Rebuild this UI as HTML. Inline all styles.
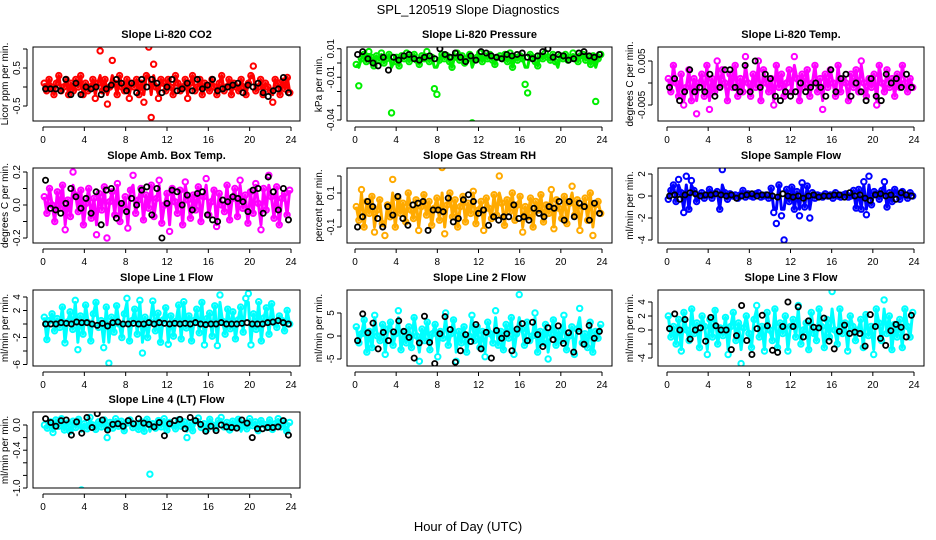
<!DOCTYPE html>
<html><head><meta charset="utf-8"><style>
body{margin:0;background:#fff;}
svg{display:block;font-family:"Liberation Sans",sans-serif;}
</style></head><body>
<svg id="chart" width="936" height="540" viewBox="0 0 936 540" xmlns="http://www.w3.org/2000/svg">
<rect x="0" y="0" width="936" height="540" fill="#fff"/>
<text x="468" y="14" font-size="13" text-anchor="middle">SPL_120519  Slope Diagnostics</text>
<text x="468" y="531" font-size="13" text-anchor="middle">Hour of Day (UTC)</text>
<g id="panels"></g>
</svg>
<script>
// x-axis tick values (hours)
const hourTicks=[0,4,8,12,16,20,24];
// panel titles
const titles=["Slope Li-820 CO2","Slope Li-820 Pressure","Slope Li-820 Temp.","Slope Amb. Box Temp.","Slope Gas Stream RH","Slope Sample Flow","Slope Line 1 Flow","Slope Line 2 Flow","Slope Line 3 Flow","Slope Line 4 (LT) Flow"];
const yTitles=["Licor ppm per min.","kPa per min.","degrees C per min.","degrees C per min.","percent per min.","ml/min per min.","ml/min per min.","ml/min per min.","ml/min per min.","ml/min per min."];
// y tick values and labels per panel (pressure & Li-820 temp values in thousandths)
const yTickVals=[[-0.5,0,0.5,1],[10,0,-10,-20,-30,-40],[-5,0,5],[-0.2,-0.1,0,0.1,0.2],[-0.1,0,0.1,0.2],[-4,-2,0,2],[-6,-4,-2,0,2,4],[-5,0,5],[-4,-2,0,2,4],[-1,-0.8,-0.6,-0.4,-0.2,0]];
const yTickLabels=[["-0.5","","0.5",""],["0.01","","-0.01","","","-0.04"],["-0.005","","0.005"],["-0.2","","0.0","","0.2"],["-0.1","","0.1",""],["-4","-2","0","2"],["-6","","-2","","2","4"],["-5","0","5"],["-4","","0","2","4"],["-1.0","","","-0.4","","0.0"]];
const colors=["#ff0000","#00ee00","#ff00ff","#ff00ff","#ffaa00","#0000ff","#00ffff","#00ffff","#00ffff","#00ffff"];

// colored series values (spread evenly over 0-24 h)
const co2=[0.1,-0.1,0.2,0,-0.2,0.1,0.3,-0.1,0,0.2,-0.2,0.1,-0.1,0.2,0,0.3,-0.2,0.1,-0.1,0,0.2,-0.3,0.1,0.95,-0.1,0.2,-0.45,0,0.7,0.1,-0.2,0.3,0,-0.1,0.2,-0.3,0.1,0,0.2,-0.2,0.1,-0.4,0.3,1.05,-0.8,0.6,0,-0.3,0.2,0.1,-0.1,0.2,0,-0.2,0.3,0.1,-0.1,0,0.2,-0.3,0.1,0.3,-0.1,0,0.2,-0.2,0.1,0,-0.1,0.2,0,-0.2,0.1,0.3,-0.1,0,0.2,-0.2,0.1,0,-0.1,0.2,0,-0.2,0.1,0.3,0.55,-0.1,0,0.2,-0.2,0.1,0,-0.1,-0.4,0.2,0.1,-0.2,0.15,-0.05,0.25,-0.15];
const pressure=[-1,-16,3,6,1,8,4,-2,5,2,7,0,3,6,-35,1,4,-2,5,3,7,1,4,6,2,-1,5,3,8,1,4,-18,-22,2,6,3,5,1,-3,4,7,2,5,0,3,6,-42,2,4,7,1,5,3,6,2,-1,4,5,3,6,1,7,-3,4,2,5,3,-15,-21,6,4,1,-2,5,3,7,4,2,6,1,-43,5,3,6,2,4,7,3,1,5,6,2,4,-1,5,-27,3,6];
const liTemp=[1,-2,4,0,-3,2,-5,-1,3,-4,1,-7,0,2,-3,4,-6,1,-2,5,-1,3,0,-4,2,-1,4,-3,1,-2,6,0,-3,2,-1,5,-4,3,0,-2,1,-5,4,-1,2,-3,0,3,-2,6,1,-4,2,-1,3,-3,0,4,-2,1,-6,2,-1,3,0,-3,4,-2,1,0,-4,2,-1,3,-2,5,0,-3,1,-1,2,-5,4,0,-2,3,-1,1,-3,2,-1,4,0,-2,1,-1];
const ambTemp=[0.05,-0.05,0.1,0,-0.1,0.08,-0.02,0.12,-0.15,0.03,-0.07,0.2,0.06,-0.04,0.09,-0.12,0.01,0.1,-0.08,0.04,-0.18,0.07,-0.03,0.11,-0.2,0.02,0.08,-0.06,0.13,-0.1,0,0.05,-0.14,0.09,0.18,-0.05,0.03,0.1,-0.09,0.06,-0.02,0.12,-0.07,0.04,0.15,-0.11,0,0.07,-0.16,0.1,0.02,-0.05,0.09,-0.12,0.14,0.03,-0.08,0.06,-0.03,0.11,-0.1,0.05,0.16,-0.06,0.02,0.09,-0.13,0.07,0,-0.04,0.12,-0.09,0.04,0.1,-0.07,0.15,-0.02,0.06,-0.11,0.08,-0.05,0.13,0.01,-0.15,0.1,-0.03,0.18,0.05,-0.08,0.11,-0.12,0.04,0.07,-0.06,0.09];
const gasRH=[0.02,-0.06,0.12,-0.1,0.05,-0.02,0.08,-0.13,0.0,0.06,-0.08,-0.15,0.03,-0.04,0.18,-0.1,0.07,-0.02,0.04,-0.07,0.1,0,-0.05,0.06,-0.12,0.02,0.09,-0.03,0.05,-0.09,0.01,0.07,-0.06,0.25,-0.14,0.03,0.1,-0.04,0.06,-0.1,0.02,0.08,-0.07,0.04,-0.02,0.11,-0.08,0.0,0.05,-0.12,0.07,0.01,-0.05,0.09,-0.03,0.2,0.04,-0.09,0.06,-0.01,0.1,-0.06,0.03,0.08,-0.13,0.02,-0.04,0.07,-0.1,0.05,0.0,0.09,-0.07,0.03,-0.02,0.12,-0.11,0.06,0.01,-0.05,0.08,-0.08,0.04,0.14,-0.03,0.06,-0.12,0.02,0.07,-0.06,0.1,-0.15,0.03,0.05,-0.02];
const sampleFlow=[-0.3,0.5,1,-0.5,1.5,0.3,-1.5,1.8,-1.2,1.4,0.5,-0.5,0,0.3,-0.2,0.1,0.6,-0.2,0.2,0.4,-1.2,2.4,0.3,-0.3,0.2,0,0.1,-0.2,0.1,0.5,-0.1,0.2,0,-0.1,0.2,0.3,-0.1,0,0.1,-0.2,0.7,-1.5,-2.5,1,-1.8,-4,0.6,-0.5,0.8,-1.2,0.4,-1.8,1.2,-1,0.9,-2,0.3,-0.2,0.1,0,-0.1,0.2,0,0.1,-0.2,0.3,0,-0.1,0.1,0.2,-0.1,0,0.5,-1.1,0.6,-1.2,1.3,-1.7,1.8,-0.8,0.4,0.2,-0.3,0.5,1.3,-1,0.3,-0.5,0.6,0.2,-0.3,0.4,0.1,-0.2,0.3,0];
const line1=[1,-2.3,0.5,1.5,-1,0.8,-0.5,2.5,-2.8,0.3,1.8,-0.8,3.5,-3.8,1.2,-1.5,2.8,0.2,-2.5,1.5,3.2,-0.5,0.5,-3.5,2.5,-5.8,1,-1.2,2.7,0,-2,1.5,3.8,-2.5,0.5,2.2,-1.5,3.5,-4.3,1,-2,0.3,3.4,-1,1.6,-2.7,0.6,2.4,-3,1.2,-1.8,0.4,2.8,-2.2,3.3,-0.6,1.2,-2.5,0.5,2.2,-1.3,3.2,-3.1,0.8,1.6,-1.8,2.7,-3.2,4.3,0.4,-1.5,2.2,-0.7,1.8,-2.2,0.6,2.5,-1.2,3.8,4.5,-3.1,1.5,-0.8,3.3,-2.5,0.9,2.4,-1.5,3,0.2,-0.5,1.2,0.5,-1,2,0];
const line2=[2,-1.5,0.5,3.5,-3.5,1,-2.5,4.5,0,-1,2.5,-4,1.5,3,-2,0.5,5.5,-3,1,-1.5,2,-2.5,4,0,-5.5,1.5,-1,3,-3,0.5,2.5,-4.5,1,-0.5,5,-2,0.5,3.5,-5.5,1,-1.5,2,-3.5,0,4.5,-1,2,-2.5,1,-4.5,3,0.5,-1.5,5.5,-2,1,-3,2.5,-0.5,4,-4,0.5,9,1.5,-2,3,-1,0,5,-3.5,1,-1.5,2.5,-5,0.5,3.5,-2,1,-1,4.5,-3,0,2,-4,1.5,6,-1.5,0.5,-2.5,3,-3.5,1,-0.5,2.5];
const line3=[2,-1,0.5,-2,1.5,-3,2.5,0,-1.5,3,-0.5,1,-2.5,2,0.5,-3.5,1.5,-1,2.8,-2,0.3,-0.8,1.8,-3.5,0.5,2.5,-1.5,1,-4.8,0.3,2,-0.5,-2.5,1.5,3.5,-1,0.5,-3,2.5,0,-1.5,3,-2.5,1,-0.5,2,-3,0.5,1.5,-1,3.5,-2,0,1,-2.8,2.5,-0.5,-1.5,3,0.5,-2.5,1.5,-1,5.5,0,-2,3,-0.5,1,-3,2,0.5,-1.5,0,1.5,-2.5,2.2,-0.8,0.5,-3.5,3,1,-1.5,4.3,-0.5,2,-2.8,0.8,-1,1.5,-2.5,3,0.5,-1,2.5];
const line4=[0,-0.05,0.05,-0.12,0.08,-0.02,0.1,-0.08,0.03,-0.1,0.06,-0.04,0.09,-1.03,0.02,-0.06,0.12,0,-0.07,0.05,-0.03,0.08,-0.2,0.04,-0.05,0.1,-0.02,0.06,-0.09,0.03,0.08,-0.04,0.01,-0.07,0.05,-0.1,0.09,-0.78,0.02,-0.05,0.07,-0.03,0.1,-0.08,0.04,0,-0.06,0.08,-0.02,0.05,-0.2,0.03,-0.09,0.06,0.11,-0.04,0.02,-0.07,0.09,0,-0.05,0.07,0.12,-0.03,0.04,-0.08,0.06,-0.02,0.09,-1.05,0.03,-0.06,0.1,-0.01,0.05,-0.09,0.07,0.01,-0.04,0.08,-0.07,0.02,0.1,-0.03,0.06,-0.1,0.04];
// black series values (spread evenly over 0-24 h)
const co2B=[-0.05,-0.05,-0.05,-0.1,0.2,-0.2,0.1,-0.2,0,-0.05,0,-0.2,-0.05,0.05,0.2,0.1,-0.1,0.1,-0.15,0.2,0,0.2,0.1,-0.15,0,0.2,-0.1,-0.05,0.1,-0.1,0.2,-0.05,0.05,0.2,-0.1,-0.05,0,0.05,0.1,-0.15,0.05,0,0.1,-0.15,-0.25,-0.1,-0.05,0.25,-0.15];
const pressureB=[6,8,3,0,-2,4,-5,4,2,5,6,3,2,4,5,3,10,6,4,7,4,1,5,2,8,7,5,4,3,6,5,6,7,4,3,5,8,10,4,6,5,2,3,7,8,5,4,6];
const liTempB=[-1,1,-4,-2,3,-2,-1,-2,2,-3,-1,3,3,-1,-2,4,-2,5,-1,2,1,-3,-4,-2,-3,-2,0,-2,-1,0,-1,-3,3,-2,1,2,-3,0,-2,-4,1,-3,-4,2,0,1,-1,2,-1];
const ambTempB=[0.15,-0.02,-0.03,-0.05,0.01,0.1,0.05,-0.02,0.04,-0.05,0.08,-0.12,0.09,0.1,-0.08,0.01,-0.04,0.04,0,0.09,0.11,-0.06,0.1,-0.2,0.01,0.09,0.08,0,0.06,-0.03,0.07,0.08,-0.06,-0.09,-0.1,0.03,0.02,0.05,0.04,0.02,-0.04,0.09,0.1,-0.05,0.17,0.08,-0.03,0.1,-0.09];
const gasRHB=[-0.1,-0.04,0.05,0.02,-0.05,-0.1,0.02,-0.03,0.08,-0.05,-0.09,0.03,0.04,0.05,-0.12,0,0,-0.01,0.07,-0.07,-0.05,0.06,0.09,0.05,-0.02,0,-0.09,-0.04,-0.06,-0.04,-0.04,0.03,-0.05,-0.04,-0.06,0.01,-0.02,-0.04,0.02,0.01,0.05,-0.06,0.05,-0.04,0.04,0.02,-0.06,0.04,-0.02];
const sampleFlowB=[0,0.1,-0.3,0.1,0.3,0.2,0,0.1,0.1,0.2,0.1,0,0.1,-0.2,0,0.1,0.2,0,0.1,0.1,0,-0.1,0.2,0,-0.1,0,-0.2,0,0.1,-0.1,0,0,0.1,0.1,-0.1,0.3,0,0.1,-0.2,-0.4,0.1,0.2,0,0.1,-0.3,0.3,0.1,0];
const line1B=[0,0,0,0.2,0.1,0,0.3,0.2,0.2,0,-0.2,0.1,-0.3,0.2,0.3,0,0,0.1,0,0,0.2,0,0.2,0.1,0,0.1,0,0.1,0,0.2,0,-0.1,0,0,0.2,0,0,0,0.1,0.2,0,0,0,0.2,0.3,0.5,0.2,0];
const line2B=[-1,4.8,0.7,2.8,-2.8,0.8,-1,0.9,3.3,1,-0.3,-4.8,-1.5,4.3,-1.4,-6,0.5,4.2,1.4,-5.7,-3.2,0.3,-1.2,2.5,-2.8,0.8,-4.8,1.2,-0.5,0.5,-3.2,1.5,2.7,-1,3,0.3,-2.3,1.8,-0.8,2.2,-1.6,0.7,-3.5,1,-1.8,2.3,-0.5,1];
const line3B=[0.2,2.3,0,1.5,-1.3,0,0.3,-1.6,1.8,0.6,0,0,-2.8,-0.8,3.5,-1.5,-3.5,0.2,2.1,0.6,-2.9,-3.2,0.5,4,0.5,3.3,-1,1.3,0.4,0.3,1.7,-1.6,-2.7,-0.2,0.7,-0.5,-0.3,-0.5,-2.3,2.2,0.5,-1.2,-2.2,-0.1,0.8,0.4,-1,2.1];
const line4B=[0.1,0.04,-0.02,0.07,0.08,-0.16,0.05,-0.13,0.12,-0.04,0.18,0.08,-0.08,0.01,0.02,-0.02,0.07,0.02,0.1,0.03,0.01,-0.03,0.04,-0.17,0.02,0.07,0.09,-0.06,0.12,0.07,0.01,-0.1,-0.02,-0.09,0,-0.03,-0.04,-0.05,0.08,0.03,-0.2,-0.06,-0.06,-0.04,-0.04,-0.03,0.07,-0.16];

const colorSeries=[co2,pressure,liTemp,ambTemp,gasRH,sampleFlow,line1,line2,line3,line4];
const blackSeries=[co2B,pressureB,liTempB,ambTempB,gasRHB,sampleFlowB,line1B,line2B,line3B,line4B];

const NS="http://www.w3.org/2000/svg";
const cols=[{l:33,r:300,x0:43,x24:291},{l:347,r:612,x0:355,x24:602},{l:658,r:924,x0:667,x24:914}];
const rows=[{t:47,b:121},{t:168,b:243},{t:290,b:366},{t:412,b:488}];
// y calibration: [value a, pixel a, value b, pixel b]
const ycal=[[0,87,0.5,68],[0,63,-40,120],[0,83,5,61],[0,205,0.2,172],[0,210,0.1,193],[0,196,2,174],[0,324,4,297],[0,336,5,313],[0,330,4,302],[0,425,-1,488]];
const root=document.getElementById('panels');
function mk(tag,attrs,parent){const e=document.createElementNS(NS,tag);for(const k in attrs)e.setAttribute(k,attrs[k]);(parent||root).appendChild(e);return e;}
const slug=s=>s.toLowerCase().replace(/[^a-z0-9]+/g,'-').replace(/^-|-$/g,'');

for(let p=0;p<10;p++){
  const c=cols[p%3], r=rows[Math.floor(p/3)];
  const cal=ycal[p];
  const yS=v=>cal[1]+(v-cal[0])*(cal[3]-cal[1])/(cal[2]-cal[0]);
  const xS=h=>c.x0+h*(c.x24-c.x0)/24;
  const g=mk('g',{});
  
  
  const tt=mk('text',{x:(c.l+c.r)/2,y:r.t-9,'font-size':11,'font-weight':'bold','text-anchor':'middle'},g);
  tt.textContent=titles[p];
  
  
  const clip='clip'+p;
  const cp=mk('clipPath',{id:clip},g);mk('rect',{x:c.l,y:r.t,width:c.r-c.l,height:r.b-r.t},cp);
  const pg=mk('g',{'clip-path':'url(#'+clip+')'},g);
  const cs=colorSeries[p];
  // dense cloud trace through the colored series (gives the solid band look)
  const pts=cs.map((v,i)=>{const h=(i+0.5)*24/cs.length;const vv=Math.max(Math.min(v,cal[0]+ (cal[2]-cal[0])*1e9),-1e9);return xS(h)+','+yS(vv);});
  // restrict band to the central spread so outliers stay isolated
  const sorted=[...cs].sort((a,b)=>a-b);
  const lo=sorted[Math.floor(sorted.length*0.1)], hi=sorted[Math.floor(sorted.length*0.9)];
  const bandPts=cs.map((v,i)=>{const h=(i+0.5)*24/cs.length;return xS(h)+','+yS(Math.max(lo,Math.min(hi,v)));}).join(' ');
  const band=mk('polyline',{points:bandPts,fill:'none',stroke:colors[p],'stroke-width':3,'stroke-linejoin':'round'},pg);
  
  
  cs.forEach((v,i)=>{const h=(i+0.5)*24/cs.length;
    const e=mk('circle',{cx:xS(h),cy:yS(v),r:2.7,fill:'none',stroke:colors[p],'stroke-width':2},pg);
    
    });
  const bs=blackSeries[p];
  bs.forEach((v,i)=>{const h=(i+0.5)*24/bs.length;
    const e=mk('circle',{cx:xS(h),cy:yS(v),r:2.6,fill:'none',stroke:'#000','stroke-width':1.8},pg);
    
    });
  const bx=mk('rect',{x:c.l,y:r.t,width:c.r-c.l,height:r.b-r.t,fill:'none',stroke:'#000','stroke-width':1},g);
  
  
  mk('line',{x1:xS(0),x2:xS(24),y1:r.b+6,y2:r.b+6,stroke:'#000'},g);
  hourTicks.forEach(h=>{mk('line',{x1:xS(h),x2:xS(h),y1:r.b+6,y2:r.b+10,stroke:'#000'},g);
    const t=mk('text',{x:xS(h),y:r.b+22,'font-size':10,'text-anchor':'middle'},g);t.textContent=h;
    
    });
  const tv=yTickVals[p];
  const ys=tv.map(yS);
  mk('line',{x1:c.l-6,x2:c.l-6,y1:Math.min(...ys),y2:Math.max(...ys),stroke:'#000'},g);
  tv.forEach((v,i)=>{const y=yS(v);mk('line',{x1:c.l-10,x2:c.l-6,y1:y,y2:y,stroke:'#000'},g);
    const lab=yTickLabels[p][i];
    if(lab){const t=mk('text',{x:c.l-13,y:y,'font-size':10,'text-anchor':'middle',transform:'rotate(-90 '+(c.l-13)+' '+y+')'},g);t.textContent=lab;
      
      }});
  const ym=(r.t+r.b)/2, yx=c.l-25;
  const yt=mk('text',{x:yx,y:ym,'font-size':10,'text-anchor':'middle',transform:'rotate(-90 '+yx+' '+ym+')'},g);
  yt.textContent=yTitles[p];
  
  
}
</script>
</body></html>
